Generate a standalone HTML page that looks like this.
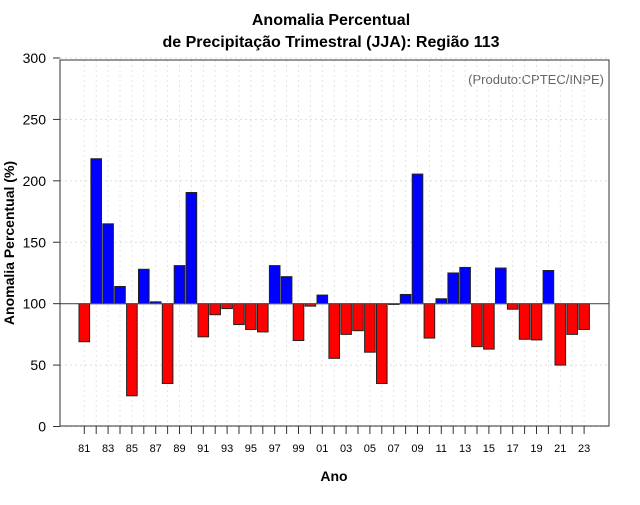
<!DOCTYPE html>
<html><head><meta charset="utf-8"><style>body{margin:0;background:#fff}svg{font-family:"Liberation Sans",sans-serif}</style></head>
<body>
<svg width="640" height="500" xmlns="http://www.w3.org/2000/svg" id="s">
<text x="331" y="25" text-anchor="middle" font-size="16" font-weight="bold">Anomalia Percentual</text>
<text x="331" y="47" text-anchor="middle" font-size="16" font-weight="bold">de Precipitação Trimestral (JJA): Região 113</text>
<text x="604" y="84" text-anchor="end" font-size="13" fill="#666">(Produto:CPTEC/INPE)</text>
<text x="334" y="481" text-anchor="middle" font-size="14" font-weight="bold">Ano</text>
<text transform="translate(14,243) rotate(-90)" text-anchor="middle" font-size="14" font-weight="bold">Anomalia Percentual (%)</text>
<g id="grid"></g><g id="bars"></g><g id="axes"></g>
<rect x="60" y="60" width="549" height="366" fill="none" stroke="#333"/>
</svg>
<script>
const years=[];for(let y=1981;y<=2023;y++)years.push(y);
const values=[69,218,165,114,25,128,101.5,35,131,190.5,73,91,96,83,79,77,131,122,70,98,107,55.5,75,78,60.5,35,99.5,107.5,205.5,72,104,125,129.5,65,63,129,95.5,71,70.5,127,50,75,79];
const yTicks=[0,50,100,150,200,250,300];
const NS='http://www.w3.org/2000/svg';
const X=yr=>84.3+(yr-1981)*11.9;
const Y=v=>426.5-v*1.2283;
function el(t,a,p){const e=document.createElementNS(NS,t);for(const k in a)e.setAttribute(k,a[k]);document.getElementById(p).appendChild(e);return e;}
yTicks.forEach(v=>{
 const g=el('line',{x1:60,x2:609,y1:Y(v),y2:Y(v),stroke:'#ddd','stroke-dasharray':'2,3'},'grid');
 
 const t=el('line',{x1:53,x2:60,y1:Y(v),y2:Y(v),stroke:'#333'},'axes');
 
 const l=el('text',{x:46,y:Y(v)+5,'text-anchor':'end','font-size':14},'axes');l.textContent=v;
 
});
years.forEach((yr,i)=>{
 const g=el('line',{x1:X(yr),x2:X(yr),y1:60,y2:426,stroke:'#e4e4e4','stroke-dasharray':'2,3'},'grid');
 
 const t=el('line',{x1:X(yr),x2:X(yr),y1:426,y2:434,stroke:'#333'},'axes');
 
 if(yr%2==1){const l=el('text',{x:X(yr),y:452,'text-anchor':'middle','font-size':11},'axes');l.textContent=String(yr%100).padStart(2,'0');
 }
 const v=values[i],top=Math.min(Y(v),Y(100)),h=Math.abs(Y(v)-Y(100));
 const b=el('rect',{x:X(yr)-5.3,y:top,width:10.6,height:Math.max(h,0.8),fill:v>=100?'#0000ff':'#ff0000',stroke:'#222','stroke-width':1},'bars');
 
});
const r=el('line',{x1:60,x2:609,y1:Y(100),y2:Y(100),stroke:'#555','stroke-width':1.2},'bars');

const ax=el('line',{x1:X(1981),x2:X(2023),y1:426,y2:426,stroke:'#333'},'axes');

</script>
</body></html>
